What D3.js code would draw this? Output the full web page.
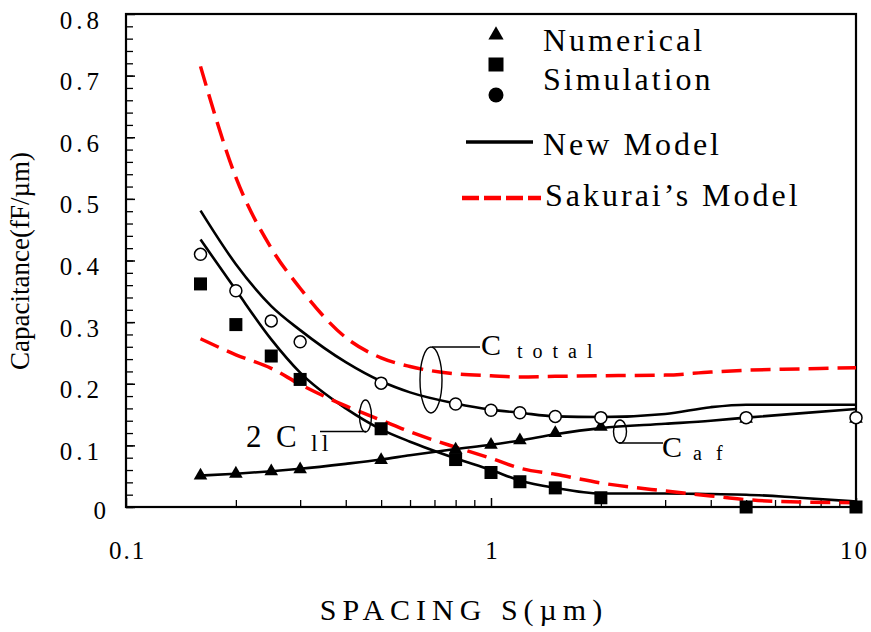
<!DOCTYPE html>
<html>
<head>
<meta charset="utf-8">
<script src="https://cdn.jsdelivr.net/npm/d3@7"></script>
<style>
  body { margin: 0; background: #fff; }
  svg text { font-family: "Liberation Serif", "DejaVu Serif", "Times New Roman", Times, serif; fill: #000; }
</style>
</head>
<body>
<div id="chart"></div>
<script>
// Simulation points.
const spacingSim = [0.16, 0.2, 0.25, 0.3, 0.5, 0.8, 1, 1.2, 1.5, 2, 5, 10];
const cTotalSim = [0.41, 0.351, 0.302, 0.268, 0.201, 0.167, 0.157, 0.153, 0.147, 0.145, 0.145, 0.145];
const c2llSim = [0.362, 0.296, 0.245, 0.207, 0.127, 0.077, 0.056, 0.041, 0.031, 0.015, 0, 0];
const cafSim = [0.051, 0.054, 0.058, 0.061, 0.076, 0.093, 0.101, 0.108, 0.120, 0.130, 0.143, 0.143];

// Model curves.
const spacingModel = [0.16, 0.2, 0.25, 0.3, 0.4, 0.5, 0.6, 0.8, 1, 1.2, 1.5, 2, 3, 4, 5, 7, 10];
const cTotalNew = [0.481, 0.394, 0.326, 0.287, 0.235, 0.204, 0.186, 0.168, 0.158, 0.153, 0.147, 0.146, 0.151, 0.162, 0.166, 0.166, 0.166];
const c2llNew = [0.434, 0.352, 0.272, 0.218, 0.160, 0.126, 0.106, 0.079, 0.060, 0.043, 0.031, 0.022, 0.022, 0.021, 0.020, 0.015, 0.009];
const cafNew = [0.051, 0.054, 0.058, 0.062, 0.070, 0.077, 0.084, 0.094, 0.101, 0.108, 0.118, 0.128, 0.135, 0.140, 0.145, 0.152, 0.159];
const cTotalSakurai = [0.715, 0.535, 0.42, 0.355, 0.275, 0.242, 0.228, 0.216, 0.213, 0.211, 0.212, 0.213, 0.214, 0.219, 0.222, 0.224, 0.226];
const c2llSakurai = [0.273, 0.247, 0.225, 0.199, 0.164, 0.141, 0.122, 0.097, 0.079, 0.063, 0.053, 0.039, 0.026, 0.018, 0.012, 0.008, 0.007];

const yTicks = [0, 0.1, 0.2, 0.3, 0.4, 0.5, 0.6, 0.7, 0.8];
const xTicks = [0.1, 1, 10];
const xMinor = [0.2, 0.3, 0.4, 0.5, 0.6, 0.7, 0.8, 0.9, 2, 3, 4, 5, 6, 7, 8, 9];

const SERIF = '"Liberation Serif", "DejaVu Serif", "Times New Roman", Times, serif';
const W = 871, H = 632;
const margin = {top: 14, right: 15, bottom: 125, left: 126};
const width = W - margin.left - margin.right;
const height = H - margin.top - margin.bottom;

const root = d3.select('#chart').append('svg')
    .attr('width', W)
    .attr('height', H)
    .attr('font-family', SERIF);
const svg = root.append('g')
    .attr('transform', `translate(${margin.left},${margin.top})`);

const x = d3.scaleLog().domain([0.1, 10]).range([0, width]);
const y = d3.scaleLinear().domain([0, 0.8]).range([height, 0]);

// Minor ticks.
svg.append('g')
    .call(d3.axisLeft(y).tickValues(d3.range(0, 0.8, 0.02)).tickSize(-7).tickFormat(''))
    .call(g => g.select('.domain').remove())
    .selectAll('line').attr('stroke-width', 1.3);
svg.append('g')
    .attr('transform', `translate(0,${height})`)
    .call(d3.axisBottom(x).tickValues(xMinor).tickSize(-7).tickFormat(''))
    .call(g => g.select('.domain').remove())
    .selectAll('line').attr('stroke-width', 1.3);

// Major ticks and labels.
const yAxis = svg.append('g')
    .call(d3.axisLeft(y).tickValues(yTicks).tickSize(-9).tickFormat(d => d === 0 ? '0' : d3.format('.1f')(d)));
yAxis.attr('font-family', SERIF);
yAxis.select('.domain').remove();
yAxis.selectAll('line').attr('stroke-width', 1.5);
yAxis.selectAll('text')
    .attr('x', d => d === 0 ? -16 : -23)
    .attr('y', d => d === 0 ? 3 : 6)
    .style('font-size', '25px')
    .style('letter-spacing', '4px');

const xAxis = svg.append('g')
    .attr('transform', `translate(0,${height})`)
    .call(d3.axisBottom(x).tickValues(xTicks).tickSize(-9).tickFormat(d => `${d}`));
xAxis.attr('font-family', SERIF);
xAxis.select('.domain').remove();
xAxis.selectAll('line').attr('stroke-width', 1.5);
xAxis.selectAll('text')
    .attr('y', 34)
    .attr('x', d => d === 10 ? -2 : 1)
    .style('font-size', '25px')
    .style('letter-spacing', '2px');

// Frame.
svg.append('rect')
    .attr('width', width)
    .attr('height', height)
    .attr('fill', 'none')
    .attr('stroke', '#000')
    .attr('stroke-width', 2.2);

// Lines.
const line = d3.line()
    .x(d => x(d[0]))
    .y(d => y(d[1]))
    .curve(d3.curveMonotoneX);
const zipModel = vals => spacingModel.map((s, i) => [s, vals[i]]);

[cTotalNew, c2llNew, cafNew].forEach(vals => {
    svg.append('path')
        .datum(zipModel(vals))
        .attr('fill', 'none')
        .attr('stroke', '#000')
        .attr('stroke-width', 2.6)
        .attr('d', line);
});
[cTotalSakurai, c2llSakurai].forEach(vals => {
    svg.append('path')
        .datum(zipModel(vals))
        .attr('fill', 'none')
        .attr('stroke', '#ff0000')
        .attr('stroke-width', 3.5)
        .attr('stroke-dasharray', '20,9')
        .attr('d', line);
});

// Markers.
svg.append('g').selectAll('path')
    .data(spacingSim.map((s, i) => [s, cafSim[i]]))
    .join('path')
    .attr('transform', d => `translate(${x(d[0])},${y(d[1])})`)
    .attr('d', d3.symbol(d3.symbolTriangle, 80));
svg.append('g').selectAll('rect')
    .data(spacingSim.map((s, i) => [s, c2llSim[i]]))
    .join('rect')
    .attr('x', d => x(d[0]) - 6.5)
    .attr('y', d => y(d[1]) - 6.5)
    .attr('width', 13)
    .attr('height', 13);
svg.append('g').selectAll('circle')
    .data(spacingSim.map((s, i) => [s, cTotalSim[i]]))
    .join('circle')
    .attr('cx', d => x(d[0]))
    .attr('cy', d => y(d[1]))
    .attr('r', 6)
    .attr('fill', '#fff')
    .attr('stroke', '#000')
    .attr('stroke-width', 1.5);

// Text helper (page coordinates).
function txt(px, py, s, size, ls, anchor) {
    return root.append('text')
        .attr('x', px)
        .attr('y', py)
        .attr('text-anchor', anchor || 'start')
        .style('font-size', `${size}px`)
        .style('letter-spacing', `${ls}px`)
        .text(s);
}

// Legend.
const leg = root.append('g');
leg.append('path').attr('transform', 'translate(496,35)').attr('d', d3.symbol(d3.symbolTriangle, 100));
leg.append('rect').attr('x', 488.5).attr('y', 57.5).attr('width', 15).attr('height', 14);
leg.append('circle').attr('cx', 496).attr('cy', 95).attr('r', 7.5);
leg.append('line').attr('x1', 466).attr('x2', 533).attr('y1', 142).attr('y2', 142)
    .attr('stroke', '#000').attr('stroke-width', 3.5);
leg.append('line').attr('x1', 462).attr('x2', 541).attr('y1', 198).attr('y2', 198)
    .attr('stroke', '#ff0000').attr('stroke-width', 4.5).attr('stroke-dasharray', '17,5');
txt(543, 51, 'Numerical', 32, 3);
txt(543, 90, 'Simulation', 32, 3);
txt(543, 155, 'New Model', 32, 3);
txt(545, 206, 'Sakurai\u2019s Model', 32, 3);

// Annotations.
const ann = root.append('g').attr('fill', 'none').attr('stroke', '#000').attr('stroke-width', 1.4);
ann.append('ellipse').attr('cx', 431).attr('cy', 380).attr('rx', 11).attr('ry', 33);
ann.append('line').attr('x1', 432).attr('x2', 480).attr('y1', 347).attr('y2', 347);
ann.append('ellipse').attr('cx', 365.5).attr('cy', 416).attr('rx', 6).attr('ry', 16);
ann.append('line').attr('x1', 320).attr('x2', 366).attr('y1', 431.5).attr('y2', 431.5);
ann.append('ellipse').attr('cx', 620).attr('cy', 431.5).attr('rx', 6.5).attr('ry', 11.5);
ann.append('line').attr('x1', 619).attr('x2', 663).attr('y1', 443).attr('y2', 443);

txt(481, 355, 'C', 30, 0);
txt(517, 358, 'total', 20, 10);
txt(246, 447, '2', 31, 0);
txt(276, 447, 'C', 31, 0);
txt(311, 451, 'll', 24, 4);
txt(662, 457, 'C', 30, 0);
txt(693, 460, 'af', 20, 14);

// Axis titles.
txt(464, 620, 'SPACING S(\u00b5m)', 30, 6, 'middle');
root.append('text')
    .attr('transform', 'translate(29,261) rotate(-90)')
    .attr('text-anchor', 'middle')
    .style('font-size', '27px')
    .text('Capacitance(fF/\u00b5m)');
</script>
</body>
</html>
